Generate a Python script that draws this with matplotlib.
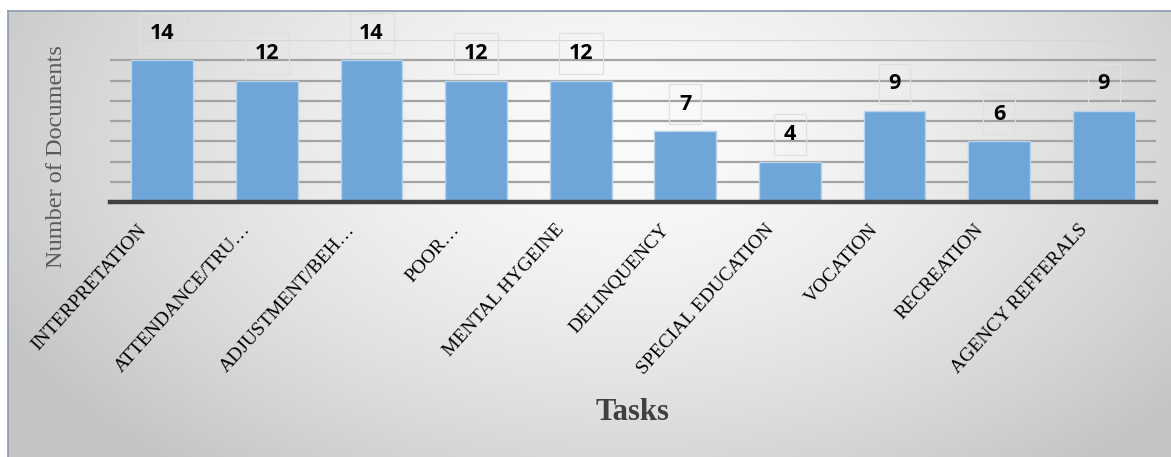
import numpy as np
import matplotlib
matplotlib.use("Agg")
import matplotlib.pyplot as plt
from matplotlib.transforms import ScaledTranslation
from matplotlib.lines import Line2D

# Data
tasks = ["INTERPRETATION", "ATTENDANCE/TRU\u2026", "ADJUSTMENT/BEH\u2026", "POOR\u2026",
         "MENTAL HYGEINE", "DELINQUENCY", "SPECIAL EDUCATION", "VOCATION",
         "RECREATION", "AGENCY REFFERALS"]
documents = [14, 12, 14, 12, 12, 7, 4, 9, 6, 9]
grid_levels = [2, 4, 6, 8, 10, 12, 14]
y_max = 16

W, H = 1171, 457
fig = plt.figure(figsize=(W / 100, H / 100), dpi=100)
fig.patch.set_facecolor("white")

# Chart-area background: radial grey gradient inside a thin frame
x0, y0 = 8 / W, 0.0
bw, bh = 1 - x0, (H - 11) / H
bg = fig.add_axes([x0, y0, bw, bh], zorder=0)
gx = np.linspace(0, 1, 600)
gy = np.linspace(0, 1, 240)
X, Y = np.meshgrid(gx, gy)
r = np.sqrt(((X - 0.53) / 0.60) ** 2 + ((Y - 0.28) / 0.95) ** 2)
shade = np.clip(0.985 - 0.21 * r ** 1.5, 0.77, 0.985)
bg.imshow(np.dstack([shade] * 3), extent=[0, 1, 0, 1], aspect="auto",
          origin="upper", interpolation="bilinear")
bg.set_xlim(0, 1)
bg.set_ylim(0, 1)
bg.axis("off")
fig.add_artist(Line2D([x0, x0], [0, bh], transform=fig.transFigure,
                      color="#8a9bb0", lw=1.2, zorder=5))
fig.add_artist(Line2D([x0, 1], [bh, bh], transform=fig.transFigure,
                      color="#8a9bb0", lw=1.2, zorder=5))

# Plot area
left, right = 110 / W, 1156 / W
bottom, top = (H - 202) / H, (H - 40) / H
ax = fig.add_axes([left, bottom, right - left, top - bottom], zorder=2)
ax.patch.set_alpha(0)

x = np.arange(len(tasks))
ax.set_xlim(-0.5, len(tasks) - 0.5)
ax.set_ylim(0, y_max)

for g in grid_levels:
    ax.axhline(g, color="#a3a3a3", lw=1.6, zorder=1)
ax.axhline(y_max, color="#d6d6d6", lw=1.6, zorder=1)

ax.bar(x, documents, width=0.59, color="#6ea6da", edgecolor="#b8d3ee",
       linewidth=1.0, zorder=3)
ax.axhline(0, color="#404040", lw=3.2, zorder=4, clip_on=False)

for xi, v in zip(x, documents):
    ax.annotate(str(v), (xi, v), xytext=(0, 27), textcoords="offset pixels",
                ha="center", va="center", fontsize=15.5, fontweight="bold",
                family="Open Sans", color="black", zorder=5,
                bbox=dict(boxstyle="square,pad=0.45", facecolor="none",
                          edgecolor="#e0e0e0", linewidth=0.9))

for s in ax.spines.values():
    s.set_visible(False)
ax.set_yticks([])
ax.set_xticks(x)
ax.set_xticklabels(tasks, rotation=48, ha="right", va="center",
                   rotation_mode="anchor", family="Liberation Serif",
                   fontsize=14, color="black")
ax.tick_params(axis="x", length=0, pad=18)
offset = ScaledTranslation(-19 / 100, 0, fig.dpi_scale_trans)
for lab in ax.get_xticklabels():
    lab.set_transform(lab.get_transform() + offset)

fig.text(57 / W, 1 - 157 / H, "Number of Documents", rotation=90,
         ha="center", va="center", family="Liberation Serif", fontsize=17.5,
         color="#595959")
fig.text(632 / W, 1 - 412 / H, "Tasks", ha="center", va="center",
         family="Liberation Serif", fontsize=22, fontweight="bold",
         color="#404040")

fig.savefig("out.png", dpi=100)
